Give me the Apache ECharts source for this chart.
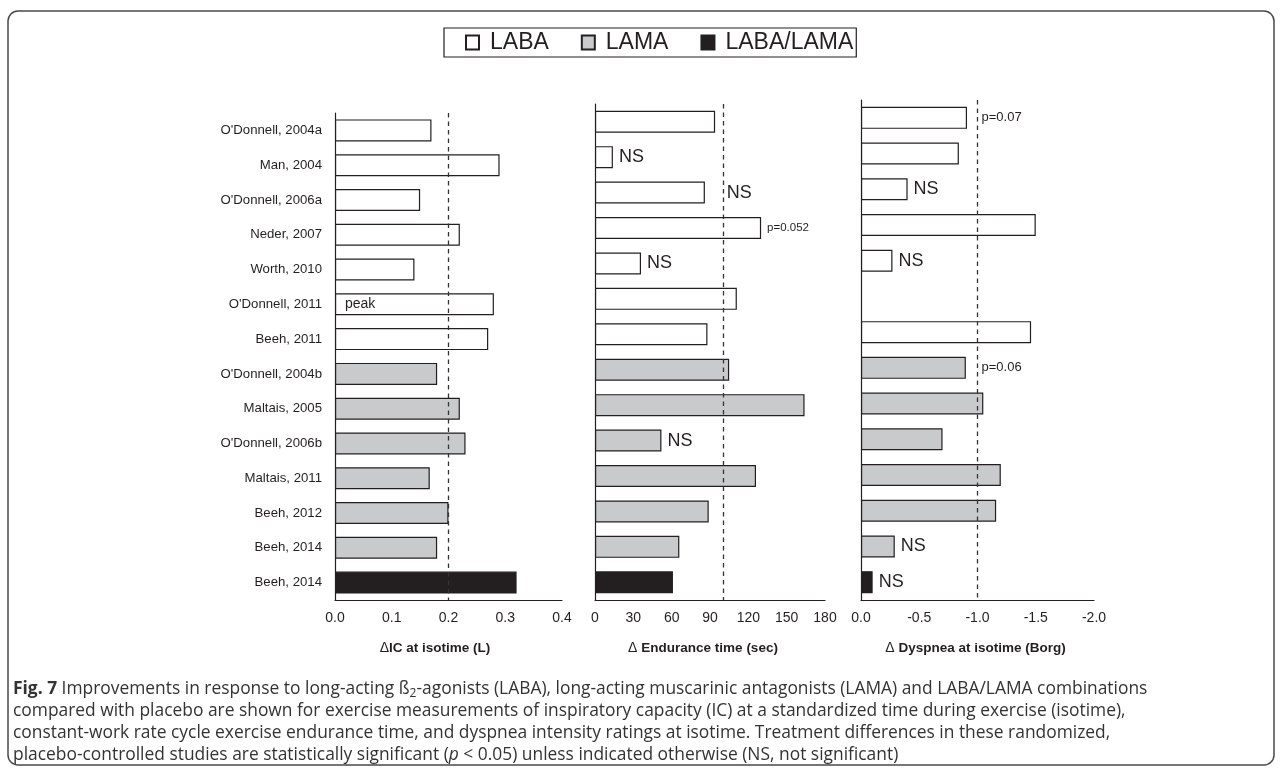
<!DOCTYPE html>
<html>
<head>
<meta charset="utf-8">
<script src="https://cdn.jsdelivr.net/npm/echarts@6/dist/echarts.min.js"></script>
<style>
html, body { margin: 0; padding: 0; background: #fff; }
#chart { width: 1282px; height: 783px; }
</style>
</head>
<body>
<div id="chart"></div>
<script>
// Studies (top to bottom) and the drug class of each
const studies = ["O'Donnell, 2004a", "Man, 2004", "O'Donnell, 2006a", "Neder, 2007", "Worth, 2010",
  "O'Donnell, 2011", "Beeh, 2011", "O'Donnell, 2004b", "Maltais, 2005", "O'Donnell, 2006b",
  "Maltais, 2011", "Beeh, 2012", "Beeh, 2014", "Beeh, 2014"];
const groups = ['LABA', 'LABA', 'LABA', 'LABA', 'LABA', 'LABA', 'LABA',
  'LAMA', 'LAMA', 'LAMA', 'LAMA', 'LAMA', 'LAMA', 'LABA/LAMA'];
const groupNames = ['LABA', 'LAMA', 'LABA/LAMA'];

// Change vs placebo
const icValues = [0.17, 0.29, 0.15, 0.22, 0.14, 0.28, 0.27, 0.18, 0.22, 0.23, 0.167, 0.20, 0.18, 0.32];
const enduranceValues = [94, 14, 86, 130, 36, 111, 88, 105, 164, 52, 126, 89, 66, 61];
const dyspneaValues = [-0.91, -0.84, -0.40, -1.50, -0.27, null, -1.46, -0.90, -1.05, -0.70, -1.20, -1.16, -0.29, -0.10];

// Annotations beside the bars
const icNotes = ['', '', '', '', '', 'peak', '', '', '', '', '', '', '', ''];
const enduranceNotes = ['', 'NS', 'NS', 'p=0.052', 'NS', '', '', '', '', 'NS', '', '', '', ''];
const dyspneaNotes = ['p=0.07', '', 'NS', '', 'NS', '', '', 'p=0.06', '', '', '', '', 'NS', 'NS'];

// Axis ticks
const icTicks = [0.0, 0.1, 0.2, 0.3, 0.4];
const enduranceTicks = [0, 30, 60, 90, 120, 150, 180];
const dyspneaTicks = [0.0, -0.5, -1.0, -1.5, -2.0];

// Reference lines (minimal clinically important differences)
const icThreshold = 0.2;
const enduranceThreshold = 100;
const dyspneaThreshold = -1.0;

const FONT = "'Liberation Sans', Arial, Helvetica, sans-serif";
const INK = '#231f20';
const fills = { 'LABA': '#ffffff', 'LAMA': '#c9cacc', 'LABA/LAMA': '#231f20' };

const panels = [
  { values: icValues, notes: icNotes, ticks: icTicks, threshold: icThreshold, decimals: 1, inverse: false,
    grid: { left: 335, top: 113, width: 227, height: 487 }, pFont: 12,
    name: '{d|Δ}{b|IC at isotime (L)}', namePad: [0, 27, 0, 0] },
  { values: enduranceValues, notes: enduranceNotes, ticks: enduranceTicks, threshold: enduranceThreshold, decimals: 0, inverse: false,
    grid: { left: 595, top: 104, width: 230, height: 496 }, pFont: 11.5,
    name: '{d|Δ }{b|Endurance time (sec)}', namePad: [0, 14, 0, 0] },
  { values: dyspneaValues, notes: dyspneaNotes, ticks: dyspneaTicks, threshold: dyspneaThreshold, decimals: 1, inverse: true,
    grid: { left: 861, top: 100, width: 233, height: 500 }, pFont: 13,
    name: '{d|Δ }{b|Dyspnea at isotime (Borg)}', namePad: [0, 4, 0, 0] }
];

const grids = [], xAxes = [], yAxes = [], series = [];

panels.forEach((p, pi) => {
  const tmin = Math.min(...p.ticks), tmax = Math.max(...p.ticks);
  const interval = Math.abs(p.ticks[1] - p.ticks[0]);
  const pxPerUnit = p.grid.width / (tmax - tmin);
  grids.push(Object.assign({ containLabel: false }, p.grid));
  xAxes.push({
    type: 'value', gridIndex: pi, min: tmin, max: tmax, interval: interval, inverse: p.inverse,
    axisLine: { show: true, lineStyle: { color: INK, width: 1.2 } },
    axisTick: { show: false }, splitLine: { show: false },
    axisLabel: { color: INK, fontFamily: FONT, fontSize: 14, margin: 11,
      formatter: v => Math.abs(v) < 1e-9 ? (0).toFixed(p.decimals) : v.toFixed(p.decimals) },
    name: p.name, nameLocation: 'middle', nameGap: 41,
    nameTextStyle: { padding: p.namePad, rich: {
      d: { fontFamily: FONT, fontSize: 14, color: INK },
      b: { fontFamily: FONT, fontSize: 13.5, fontWeight: 'bold', color: INK } } }
  });
  yAxes.push({
    type: 'category', gridIndex: pi, data: studies, inverse: true,
    axisLine: { show: true, lineStyle: { color: INK, width: 1.2 } },
    axisTick: { show: false },
    axisLabel: { show: pi === 0, color: INK, fontFamily: FONT, fontSize: 13.2, margin: 13 }
  });

  groupNames.forEach((g, gi) => {
    const data = p.values.map((v, i) => {
      if (groups[i] !== g || v === null) return null;
      const note = p.notes[i];
      const item = { value: v };
      if (note) {
        if (note === 'peak') {
          item.label = { show: true, position: 'insideLeft', distance: 10, formatter: note,
            fontFamily: FONT, fontSize: 14, color: INK };
        } else {
          // keep the note clear of the reference line when the bar stops just short of it
          const gapPx = (Math.abs(p.threshold) - Math.abs(v)) * pxPerUnit;
          const dist = (gapPx > 0 && gapPx < 22) ? gapPx + 4 : 6;
          item.label = { show: true, position: 'right', distance: dist, formatter: note,
            fontFamily: FONT, fontSize: note === 'NS' ? 18 : p.pFont, color: INK };
        }
      }
      return item;
    });
    const s = {
      name: g, type: 'bar', xAxisIndex: pi, yAxisIndex: pi, stack: 'panel' + pi,
      barWidth: 22, data: data, silent: true, animation: false,
      itemStyle: { color: fills[g], borderColor: INK, borderWidth: 1.2 }
    };
    if (gi === 0) {
      s.markLine = {
        silent: true, symbol: 'none', animation: false, label: { show: false },
        lineStyle: { type: [4.5, 4], color: '#333', width: 1.3 },
        data: [{ xAxis: p.threshold }]
      };
    }
    series.push(s);
  });
});

const captionLines = [
  '{fig|Fig. 7} Improvements in response to long-acting ß{sub|2}-agonists (LABA), long-acting muscarinic antagonists (LAMA) and LABA/LAMA combinations',
  'compared with placebo are shown for exercise measurements of inspiratory capacity (IC) at a standardized time during exercise (isotime),',
  'constant-work rate cycle exercise endurance time, and dyspnea intensity ratings at isotime. Treatment differences in these randomized,',
  'placebo-controlled studies are statistically significant ({i|p} < 0.05) unless indicated otherwise (NS, not significant)'
];
const CAP_FONT = "'Open Sans', 'Noto Sans', sans-serif";
const CAP_SIZE = 17.4;
const capRich = {
  fig: { fontFamily: CAP_FONT, fontSize: CAP_SIZE, fontWeight: 'bold', color: '#231f20' },
  sub: { fontFamily: CAP_FONT, fontSize: 12, color: '#333', padding: [9, 0, 0, 0] },
  i: { fontFamily: CAP_FONT, fontSize: CAP_SIZE, fontStyle: 'italic', color: '#333' }
};

const graphics = [
  { type: 'rect', silent: true, z: -1,
    shape: { x: 8, y: 11, width: 1266, height: 754, r: 10 },
    style: { fill: 'none', stroke: '#4a4a4a', lineWidth: 1.5 } }
];
captionLines.forEach((t, k) => {
  graphics.push({
    type: 'text', left: 13, top: 681 + k * 22, silent: true,
    style: { text: t, rich: capRich, fontFamily: CAP_FONT, fontSize: CAP_SIZE, fill: '#333' }
  });
});

const chart = echarts.init(document.getElementById('chart'), null, { renderer: 'canvas' });
chart.setOption({
  animation: false,
  backgroundColor: '#fff',
  legend: {
    data: groupNames, left: 444, top: 28, orient: 'horizontal',
    itemWidth: 13, itemHeight: 14, itemGap: 32, icon: 'rect',
    padding: [3, 3, 3, 21], borderColor: INK, borderWidth: 1.2,
    textStyle: { fontFamily: FONT, fontSize: 23, color: INK, padding: [0, 0, 0, 6] },
    selectedMode: false
  },
  grid: grids, xAxis: xAxes, yAxis: yAxes, series: series, graphic: graphics
});
</script>
</body>
</html>
